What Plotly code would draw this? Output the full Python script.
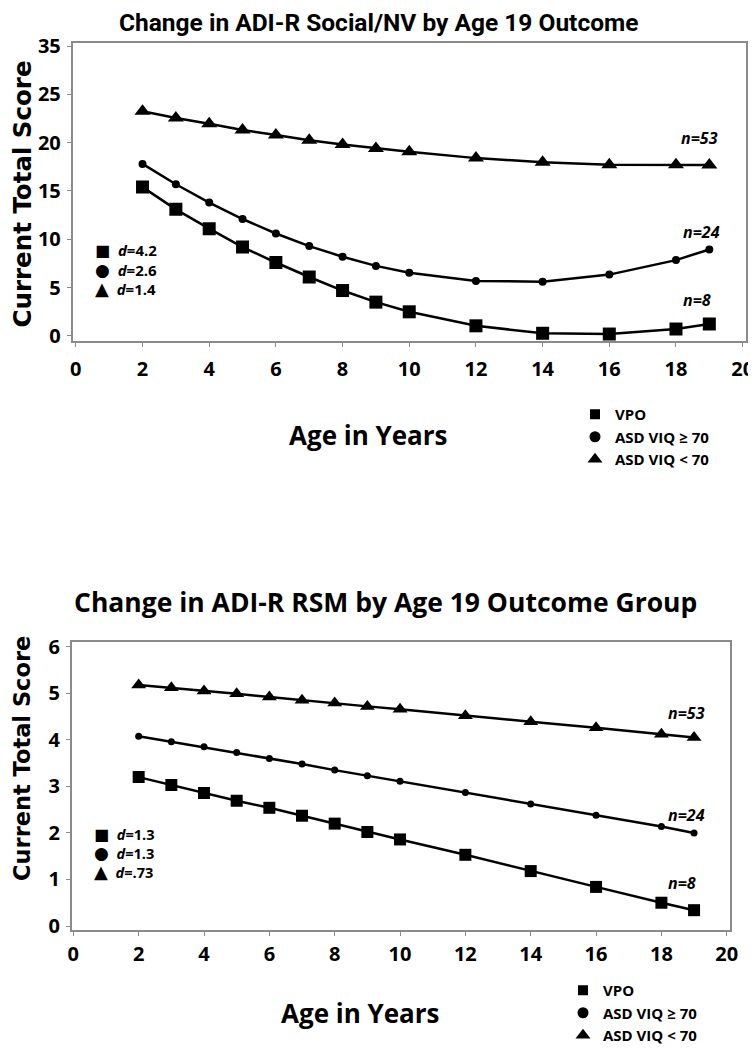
import plotly.graph_objects as go

# ---------------- data ----------------
ages = [2, 3, 4, 5, 6, 7, 8, 9, 10, 12, 14, 16, 18, 19]

# Top chart: ADI-R Social/NV
social_vpo = [15.4, 13.1, 11.1, 9.2, 7.6, 6.1, 4.7, 3.5, 2.5, 1.05, 0.28, 0.2, 0.72, 1.24]
social_viq_ge70 = [17.8, 15.7, 13.8, 12.1, 10.6, 9.3, 8.2, 7.25, 6.55, 5.7, 5.6, 6.35, 7.85, 8.95]
social_viq_lt70 = [23.25, 22.55, 21.95, 21.3, 20.8, 20.25, 19.8, 19.4, 19.05, 18.4, 17.97, 17.72, 17.72, 17.7]

# Bottom chart: ADI-R RSM
rsm_vpo = [3.2, 3.03, 2.86, 2.69, 2.54, 2.37, 2.2, 2.02, 1.86, 1.53, 1.18, 0.84, 0.5, 0.34]
rsm_viq_ge70 = [4.08, 3.96, 3.85, 3.73, 3.6, 3.48, 3.35, 3.23, 3.11, 2.87, 2.62, 2.38, 2.14, 2.0]
rsm_viq_lt70 = [5.18, 5.12, 5.05, 4.99, 4.92, 4.85, 4.79, 4.72, 4.66, 4.52, 4.39, 4.26, 4.12, 4.05]

group_names = ["VPO", "ASD VIQ \u2265 70", "ASD VIQ < 70"]
group_symbols = ["square", "circle", "triangle-up"]
group_glyphs = ["\u25A0", "\u25CF", "\u25B2"]
top_d = ["4.2", "2.6", "1.4"]
bottom_d = ["1.3", "1.3", ".73"]
top_n = ["53", "24", "8"]
bottom_n = ["53", "24", "8"]

top_title = "Change in ADI-R Social/NV by Age 19 Outcome"
bottom_title = "Change in ADI-R RSM by Age 19 Outcome Group"
y_title = "Current Total Score"
x_title = "Age in Years"

x_tickvals = [0, 2, 4, 6, 8, 10, 12, 14, 16, 18, 20]
top_y_tickvals = [0, 5, 10, 15, 20, 25, 30]
top_y_ticklabels = ["0", "5", "10", "15", "20", "25", "35"]
bottom_y_tickvals = [0, 1, 2, 3, 4, 5, 6]

# n-label positions (data coords of label left/center)
top_n_pos = [(18.1, 20.5), (18.15, 10.75), (18.15, 3.7)]
bottom_n_pos = [(18.15, 4.58), (18.15, 2.39), (18.15, 0.92)]

# ---------------- figure ----------------
# The page body keeps its default 8px margin, so the figure is drawn 8px in
# from the window's top-left corner; the positions below are window pixels.
OFF = 8
FW, FH = 756 - OFF, 1050 - OFF
FONT = "Open Sans"
fig = go.Figure()

top_series = [social_vpo, social_viq_ge70, social_viq_lt70]
bot_series = [rsm_vpo, rsm_viq_ge70, rsm_viq_lt70]
top_sizes = [13, 8, 14]
bot_sizes = [12, 7, 13]

for vals, sym, sz, nm in zip(top_series, group_symbols, top_sizes, group_names):
    fig.add_trace(go.Scatter(x=ages, y=vals, mode="lines+markers", name=nm,
                             line=dict(color="black", width=2.5),
                             marker=dict(symbol=sym, size=sz, color="black"),
                             xaxis="x", yaxis="y", showlegend=False))
for vals, sym, sz, nm in zip(bot_series, group_symbols, bot_sizes, group_names):
    fig.add_trace(go.Scatter(x=ages, y=vals, mode="lines+markers", name=nm,
                             line=dict(color="black", width=2.5),
                             marker=dict(symbol=sym, size=sz, color="black"),
                             xaxis="x2", yaxis="y2", showlegend=False))

# group legend entries
leg_sizes = [10, 11, 13]
for nm, sym, sz in zip(group_names, group_symbols, leg_sizes):
    fig.add_trace(go.Scatter(x=[None], y=[None], mode="markers", name=nm,
                             marker=dict(symbol=sym, size=sz, color="black"),
                             xaxis="x", yaxis="y", legend="legend"))
    fig.add_trace(go.Scatter(x=[None], y=[None], mode="markers", name=nm,
                             marker=dict(symbol=sym, size=sz, color="black"),
                             xaxis="x2", yaxis="y2", legend="legend2"))

def px_x(p):
    return (p - OFF) / FW

def px_y(p):
    return 1 - (p - OFF) / FH

axis_common = dict(showline=True, linecolor="#8a8a8a", linewidth=1.5, mirror=True,
                   showgrid=False, zeroline=False, ticks="outside", ticklen=4,
                   tickcolor="#8a8a8a", tickwidth=1.2, automargin=False,
                   tickfont=dict(family=FONT, size=20, color="black", weight="bold"))

legend_font = dict(family=FONT, size=15, color="black", weight="bold")
fig.update_layout(
    template="none",
    width=FW, height=FH, margin=dict(l=0, r=0, t=0, b=0, autoexpand=False),
    plot_bgcolor="white", paper_bgcolor="white",
    xaxis=dict(domain=[px_x(72.5), px_x(746)], range=[-0.1, 20.1],
               tickvals=x_tickvals, anchor="y", ticklabelstandoff=5, **axis_common),
    yaxis=dict(domain=[px_y(341), px_y(43)], range=[-0.52, 30.31],
               tickvals=top_y_tickvals, ticktext=top_y_ticklabels, anchor="x",
               ticklabelstandoff=2, **axis_common),
    xaxis2=dict(domain=[px_x(71.7), px_x(730)], range=[-0.05, 20.1],
                tickvals=x_tickvals, anchor="y2", ticklabelstandoff=1, **axis_common),
    yaxis2=dict(domain=[px_y(930), px_y(641.7)], range=[-0.086, 6.11],
                tickvals=bottom_y_tickvals, anchor="x2", ticklabelstandoff=2, **axis_common),
    legend=dict(x=px_x(575), y=px_y(398), xanchor="left", yanchor="top",
                bgcolor="rgba(0,0,0,0)", borderwidth=0, font=legend_font),
    legend2=dict(x=px_x(563), y=px_y(974), xanchor="left", yanchor="top",
                 bgcolor="rgba(0,0,0,0)", borderwidth=0, font=legend_font),
)

ann = []
ann.append(dict(text=top_title, x=px_x(378), y=px_y(23), xref="paper", yref="paper",
                showarrow=False, xanchor="center", yanchor="middle",
                font=dict(family="Roboto", size=24.5, color="black", weight="bold")))
ann.append(dict(text=bottom_title, x=px_x(385), y=px_y(602), xref="paper", yref="paper",
                showarrow=False, xanchor="center", yanchor="middle",
                font=dict(family=FONT, size=26.5, color="black", weight="bold")))
ann.append(dict(text=y_title, x=px_x(22.5), y=px_y(194), xref="paper", yref="paper",
                showarrow=False, textangle=-90, xanchor="center", yanchor="middle",
                font=dict(family="DejaVu Sans", size=24.5, color="black", weight="bold")))
ann.append(dict(text=y_title, x=px_x(22), y=px_y(759), xref="paper", yref="paper",
                showarrow=False, textangle=-90, xanchor="center", yanchor="middle",
                font=dict(family="DejaVu Sans", size=22.5, color="black", weight="bold")))
ann.append(dict(text=x_title, x=px_x(368), y=px_y(435), xref="paper", yref="paper",
                showarrow=False, xanchor="center", yanchor="middle",
                font=dict(family=FONT, size=26, color="black", weight="bold")))
ann.append(dict(text=x_title, x=px_x(360), y=px_y(1013), xref="paper", yref="paper",
                showarrow=False, xanchor="center", yanchor="middle",
                font=dict(family=FONT, size=26, color="black", weight="bold")))
nfont = dict(family=FONT, size=16, color="black", weight="bold")
for n, (xx, yy) in zip(top_n, top_n_pos):
    ann.append(dict(text=f"<i>n={n}</i>", x=xx, y=yy, xref="x", yref="y", showarrow=False,
                    xanchor="left", yanchor="middle", font=nfont))
for n, (xx, yy) in zip(bottom_n, bottom_n_pos):
    ann.append(dict(text=f"<i>n={n}</i>", x=xx, y=yy, xref="x2", yref="y2", showarrow=False,
                    xanchor="left", yanchor="middle", font=nfont))

# effect-size keys (d values), one multi-line block per chart
glyph_px = [16, 17, 18]
def d_key(dvals):
    lines = []
    for g, gp, d in zip(group_glyphs, glyph_px, dvals):
        lines.append(f'<span style="font-family:DejaVu Sans;font-weight:normal;'
                     f'font-size:{gp}px">{g}</span>\u00a0 <i>d</i>={d}')
    return "<br>".join(lines)

ann.append(dict(text=d_key(top_d), x=px_x(93), y=px_y(269.5), xref="paper", yref="paper",
                showarrow=False, xanchor="left", yanchor="middle", align="left",
                font=dict(family=FONT, size=15, color="black", weight="bold")))
ann.append(dict(text=d_key(bottom_d), x=px_x(92), y=px_y(853), xref="paper", yref="paper",
                showarrow=False, xanchor="left", yanchor="middle", align="left",
                font=dict(family=FONT, size=14.6, color="black", weight="bold")))

fig.update_layout(annotations=ann)

fig.write_html("out.html")
